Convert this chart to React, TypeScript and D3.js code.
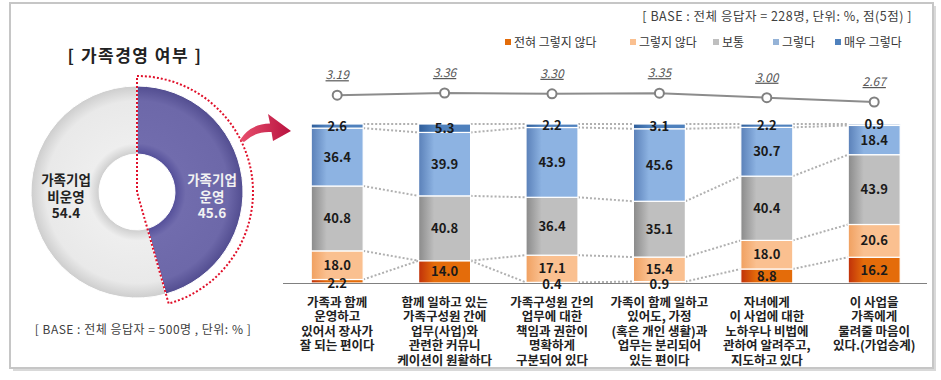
import React from 'react';
import * as d3 from 'd3';

const categories: string[][] = [
  ['가족과 함께', '운영하고', '있어서 장사가', '잘 되는 편이다'],
  ['함께 일하고 있는', '가족구성원 간에', '업무(사업)와', '관련한 커뮤니', '케이션이 원활하다'],
  ['가족구성원 간의', '업무에 대한', '책임과 권한이', '명확하게', '구분되어 있다'],
  ['가족이 함께 일하고', '있어도, 가정', '(혹은 개인 생활)과', '업무는 분리되어', '있는 편이다'],
  ['자녀에게', '이 사업에 대한', '노하우나 비법에', '관하여 알려주고,', '지도하고 있다'],
  ['이 사업을', '가족에게', '물려줄 마음이', '있다.(가업승계)'],
];
const seriesNames = ['전혀 그렇지 않다', '그렇지 않다', '보통', '그렇다', '매우 그렇다'];
const notAtAll = [2.2, 14.0, 0.4, 0.9, 8.8, 16.2];
const disagree = [18.0, 0, 17.1, 15.4, 18.0, 20.6];
const neutral = [40.8, 40.8, 36.4, 35.1, 40.4, 43.9];
const agree = [36.4, 39.9, 43.9, 45.6, 30.7, 18.4];
const stronglyAgree = [2.6, 5.3, 2.2, 3.1, 2.2, 0.9];
const scores = [3.19, 3.36, 3.3, 3.35, 3.0, 2.67];
const scoreLabels = ['3.19', '3.36', '3.30', '3.35', '3.00', '2.67'];
const donutNames = ['가족기업 운영', '가족기업 비운영'];
const donutValues = [45.6, 54.4];
const donutLines = [['가족기업', '운영', '45.6'], ['가족기업', '비운영', '54.4']];

const FONT = "'Noto Sans CJK KR', 'Malgun Gothic', sans-serif";
const seriesData = [notAtAll, disagree, neutral, agree, stronglyAgree];
const seriesColors = ['#e46c0a', '#fac090', '#bfbfbf', '#8db3e2', '#4f81bd'];
const seriesDark = ['#c0300a', '#f0a060', '#8a8a8a', '#5a80b8', '#2e5d9a'];
const legendColors = ['#e36c09', '#fac090', '#bfbfbf', '#95b3d7', '#4f81bd'];

export default function App() {
  const W = 941, H = 380;
  const ids = categories.map((_, i) => String(i));
  const x = d3.scaleBand<string>().domain(ids).range([283.5, 927.9]).paddingInner(0.516).paddingOuter(0.258);
  const y = d3.scaleLinear().domain([0, 100]).range([283, 124]);
  const ys = d3.scaleLinear().domain([2.67, 3.36]).range([102, 93]);
  const bw = x.bandwidth();

  const stacked = ids.map((_, i) => {
    let acc = 0;
    return seriesData.map((s) => {
      const y0 = acc;
      acc += s[i];
      return { y0, y1: Math.min(acc, 100), v: s[i] };
    });
  });

  // donut
  const cx = 137, cy = 192, R = 106, r0 = 38;
  const pie = d3.pie<number>().sort(null).value((d) => d)(donutValues);
  const arc = d3.arc<d3.PieArcDatum<number>>().innerRadius(r0).outerRadius(R);
  const endA = pie[0].endAngle;
  const R2 = 116;
  const dp = d3.path();
  dp.moveTo(cx, cy - R2);
  dp.arc(cx, cy, R2, -Math.PI / 2, -Math.PI / 2 + endA, false);
  dp.lineTo(cx, cy);
  dp.closePath();

  const cxs = ids.map((id) => (x(id) as number) + bw / 2);
  const line = d3.line<number>().x((_, i) => cxs[i]).y((d) => ys(d));

  const legendX = [505, 630, 713, 773, 835];

  return (
    <svg width={W} height={H} style={{ position: 'absolute', left: 0, top: 0 }} fontFamily={FONT}>
      <defs>
        {seriesColors.map((c, k) => (
          <linearGradient key={k} id={`g${k}`} x1="0" x2="1" y1="0" y2="0">
            <stop offset="0" stopColor={seriesDark[k]} />
            <stop offset="0.3" stopColor={c} />
            <stop offset="1" stopColor={c} />
          </linearGradient>
        ))}
        <radialGradient id="dgray" gradientUnits="userSpaceOnUse" cx={0} cy={0} r={R}>
          <stop offset="0.36" stopColor="#cfcfcf" />
          <stop offset="0.46" stopColor="#eeeeee" />
          <stop offset="0.86" stopColor="#e9e9e9" />
          <stop offset="1" stopColor="#cdcdcd" />
        </radialGradient>
        <radialGradient id="dpurple" gradientUnits="userSpaceOnUse" cx={0} cy={0} r={R}>
          <stop offset="0.36" stopColor="#55509a" />
          <stop offset="0.46" stopColor="#716cad" />
          <stop offset="0.86" stopColor="#6d68a9" />
          <stop offset="1" stopColor="#524d90" />
        </radialGradient>
        <linearGradient id="arrowG" x1="0" x2="1" y1="0" y2="0">
          <stop offset="0" stopColor="#e8506e" />
          <stop offset="1" stopColor="#b8123f" />
        </linearGradient>
      </defs>

      {/* frame */}
      <rect x={13} y={6} width={923} height={365} fill="#d9d9d9" />
      <rect x={10} y={3} width={923} height={365} fill="#ffffff" stroke="#c6c6c6" strokeWidth={2} />

      {/* left title */}
      <text x={135} y={62} textAnchor="middle" fontSize={17} fontWeight="bold" fill="#222" letterSpacing={1.5}>[ 가족경영 여부 ]</text>

      {/* donut */}
      <g transform={`translate(${cx},${cy})`}>
        {pie.map((p, i) => (
          <path key={i} d={arc(p) as string} fill={i === 0 ? 'url(#dpurple)' : 'url(#dgray)'} stroke="#ffffff" strokeWidth={1} />
        ))}
      </g>
      <path d={dp.toString()} fill="none" stroke="#e0102a" strokeWidth={2} strokeDasharray="2,2" />
      {donutLines.map((lines, i) => (
        <text key={`d${i}`} y={185} textAnchor="middle" fontSize={13.5} fontWeight="bold" fill={i === 0 ? '#f2f2f2' : '#222'}>
          {lines.map((t, j) => (
            <tspan key={j} x={i === 0 ? 212 : 66} dy={j === 0 ? 0 : 16.5}>{t}</tspan>
          ))}
        </text>
      ))}
      <text x={143} y={334} textAnchor="middle" fontSize={12} letterSpacing={0.5} fill="#404040">[ BASE : 전체 응답자 = 500명 , 단위: % ]</text>

      {/* arrow */}
      <path d="M240,140 Q250,124 270,123.5 L268,114 L291,131 L273,141 L271.5,132 Q255,131 244,142 Z" fill="url(#arrowG)" />

      {/* right header */}
      <text x={912} y={21} textAnchor="end" fontSize={12.5} letterSpacing={0.5} fill="#404040">[ BASE : 전체 응답자 = 228명, 단위: %, 점(5점) ]</text>
      {seriesNames.map((n, k) => (
        <g key={k}>
          <rect x={legendX[k]} y={39} width={6} height={6} fill={legendColors[k]} />
          <text x={legendX[k] + 9} y={46.5} fontSize={12} fill="#333">{n}</text>
        </g>
      ))}

      {/* connectors */}
      {ids.slice(0, -1).map((_, i) =>
        [0, 1, 2, 3, 4].map((k) => (
          <line key={`c${i}-${k}`} x1={(x(ids[i]) as number) + bw} x2={x(ids[i + 1]) as number}
            y1={y(stacked[i][k].y1)} y2={y(stacked[i + 1][k].y1)}
            stroke="#b0b0b0" strokeWidth={2} strokeDasharray="2,2" />
        ))
      )}

      {/* bars */}
      {ids.map((id, i) => (
        <g key={id}>
          {stacked[i].map((s, k) => s.v > 0 ? (
            <rect key={k} x={x(id) as number} y={y(s.y1)} width={bw} height={y(s.y0) - y(s.y1)} fill={`url(#g${k})`} stroke="#ffffff" strokeWidth={1.2} />
          ) : null)}
        </g>
      ))}
      <line x1={283} x2={927} y1={283.5} y2={283.5} stroke="#808080" strokeWidth={1} />
      {ids.map((id, i) => (
        <g key={`l${id}`}>
          {stacked[i].map((s, k) => {
            if (s.v <= 0) return null;
            const mid = (y(s.y0) + y(s.y1)) / 2;
            const yy = k === 0 && s.v < 3 ? mid + 2 : mid;
            return (
              <text key={k} x={cxs[i]} y={yy + 4.5} textAnchor="middle" fontSize={13} fontWeight="bold" fill="#1a1a1a">{s.v.toFixed(1)}</text>
            );
          })}
        </g>
      ))}

      {/* category labels */}
      {categories.map((lines, i) => (
        <text key={`x${i}`} y={306.5} textAnchor="middle" fontSize={12.5} fontWeight="bold" fill="#222">
          {lines.map((t, j) => (
            <tspan key={j} x={cxs[i]} dy={j === 0 ? 0 : 14.5}>{t}</tspan>
          ))}
        </text>
      ))}

      {/* score line */}
      <path d={line(scores) as string} fill="none" stroke="#8c8c8c" strokeWidth={2} />
      {scores.map((v, i) => (
        <g key={`s${i}`}>
          <circle cx={cxs[i]} cy={ys(v)} r={4.5} fill="#ffffff" stroke="#808080" strokeWidth={2} />
          <text x={cxs[i]} y={ys(v) - 16} textAnchor="middle" fontSize={12} fontStyle="italic" textDecoration="underline" fill="#595959">{scoreLabels[i]}</text>
        </g>
      ))}
    </svg>
  );
}
